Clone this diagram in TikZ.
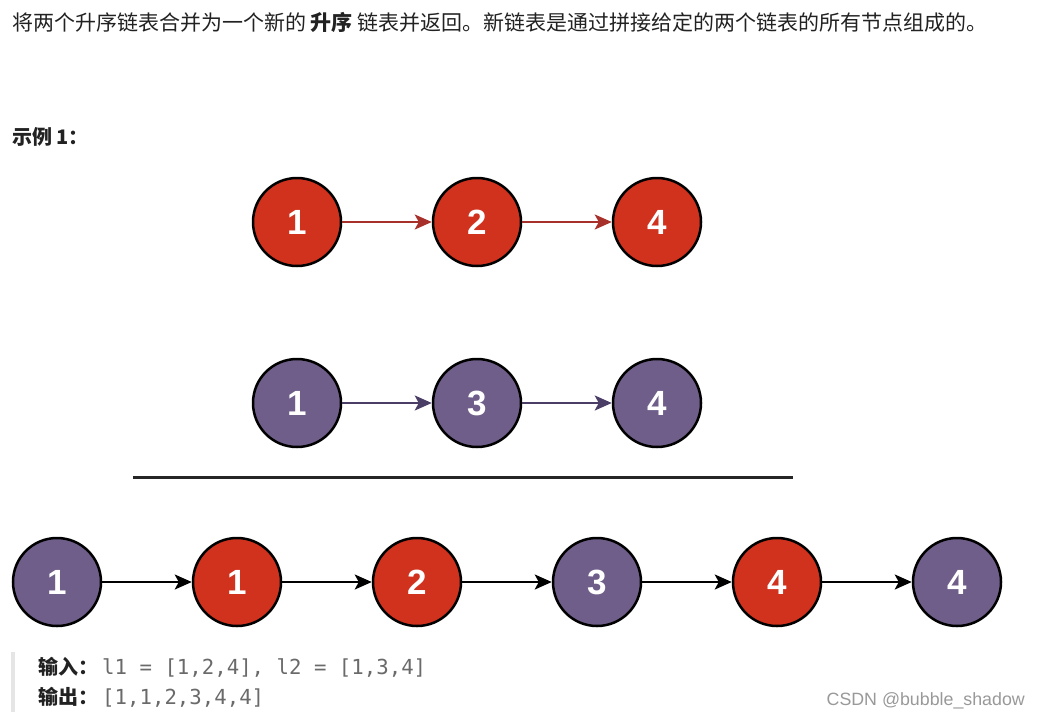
\documentclass[tikz,border=0pt]{standalone}
\usepackage{fontspec}
\setmainfont{Liberation Sans}
\newfontfamily\cjk{Noto Sans CJK SC}
\newfontfamily\monof{DejaVu Sans Mono}
\usetikzlibrary{arrows.meta}
\definecolor{nred}{HTML}{D1321E}
\definecolor{npur}{HTML}{6F5E89}
\definecolor{ared}{HTML}{A8302A}
\definecolor{apur}{HTML}{4A3D66}
\definecolor{txt}{HTML}{222222}
\definecolor{codegray}{HTML}{6A6A6A}
\tikzset{
  lnode/.style={circle, draw=black, line width=2.5pt, minimum size=88pt, inner sep=0pt, text=white, font=\fontsize{35}{35}\selectfont\bfseries},
  rednode/.style={lnode, fill=nred},
  purnode/.style={lnode, fill=npur},
  link/.style={line width=2pt, -{Stealth[length=17pt,width=15pt,inset=4pt]}},
  label/.style={anchor=base west, inner sep=0pt, text=txt},
}
\begin{document}
\begin{tikzpicture}[x=1pt,y=-1pt]
\useasboundingbox[fill=white] (0,0) rectangle (1040,718);
% texts
\node[label, font=\fontsize{21}{24}\selectfont\cjk] (title) at (12,30) {将两个升序链表合并为一个新的 \textbf{升序} 链表并返回。新链表是通过拼接给定的两个链表的所有节点组成的。};
\node[label, font=\fontsize{20}{24}\selectfont\cjk\bfseries] (ex) at (12,144) {示例 1：};
% list 1
\node[rednode] (a1) at (297,222) {1};
\node[rednode] (a2) at (477,222) {2};
\node[rednode] (a3) at (657,222) {4};
\draw[link, ared] (a1) -- (a2);
\draw[link, ared] (a2) -- (a3);
% list 2
\node[purnode] (b1) at (297,403) {1};
\node[purnode] (b2) at (477,403) {3};
\node[purnode] (b3) at (657,403) {4};
\draw[link, apur] (b1) -- (b2);
\draw[link, apur] (b2) -- (b3);
% separator
\coordinate (s1) at (133,477);
\coordinate (s2) at (793,477);
\draw[line width=3pt, black!85] (s1) -- (s2);
% merged
\node[purnode] (c1) at (57,582) {1};
\node[rednode] (c2) at (237,582) {1};
\node[rednode] (c3) at (417,582) {2};
\node[purnode] (c4) at (597,582) {3};
\node[rednode] (c5) at (777,582) {4};
\node[purnode] (c6) at (957,582) {4};
\draw[link] (c1) -- (c2);
\draw[link] (c2) -- (c3);
\draw[link] (c3) -- (c4);
\draw[link] (c4) -- (c5);
\draw[link] (c5) -- (c6);
% code block
\coordinate (bar1) at (13,652);
\coordinate (bar2) at (13,712);
\draw[line width=3.5pt, black!10] (bar1) -- (bar2);
\node[label] (in) at (38,674) {{\fontsize{20}{24}\selectfont\cjk\bfseries 输入：}\hspace{4pt}{\fontsize{20.7}{24}\selectfont\monof\color{codegray}l1 = [1,2,4], l2 = [1,3,4]}};
\node[label] (out) at (38,704) {{\fontsize{20}{24}\selectfont\cjk\bfseries 输出：}\hspace{4pt}{\fontsize{20.7}{24}\selectfont\monof\color{codegray}[1,1,2,3,4,4]}};
\node[anchor=base east, inner sep=0pt, text=black!40, font=\fontsize{17.8}{20}\selectfont] (wm) at (1025,705) {CSDN @bubble\_shadow};
\end{tikzpicture}
\end{document}
